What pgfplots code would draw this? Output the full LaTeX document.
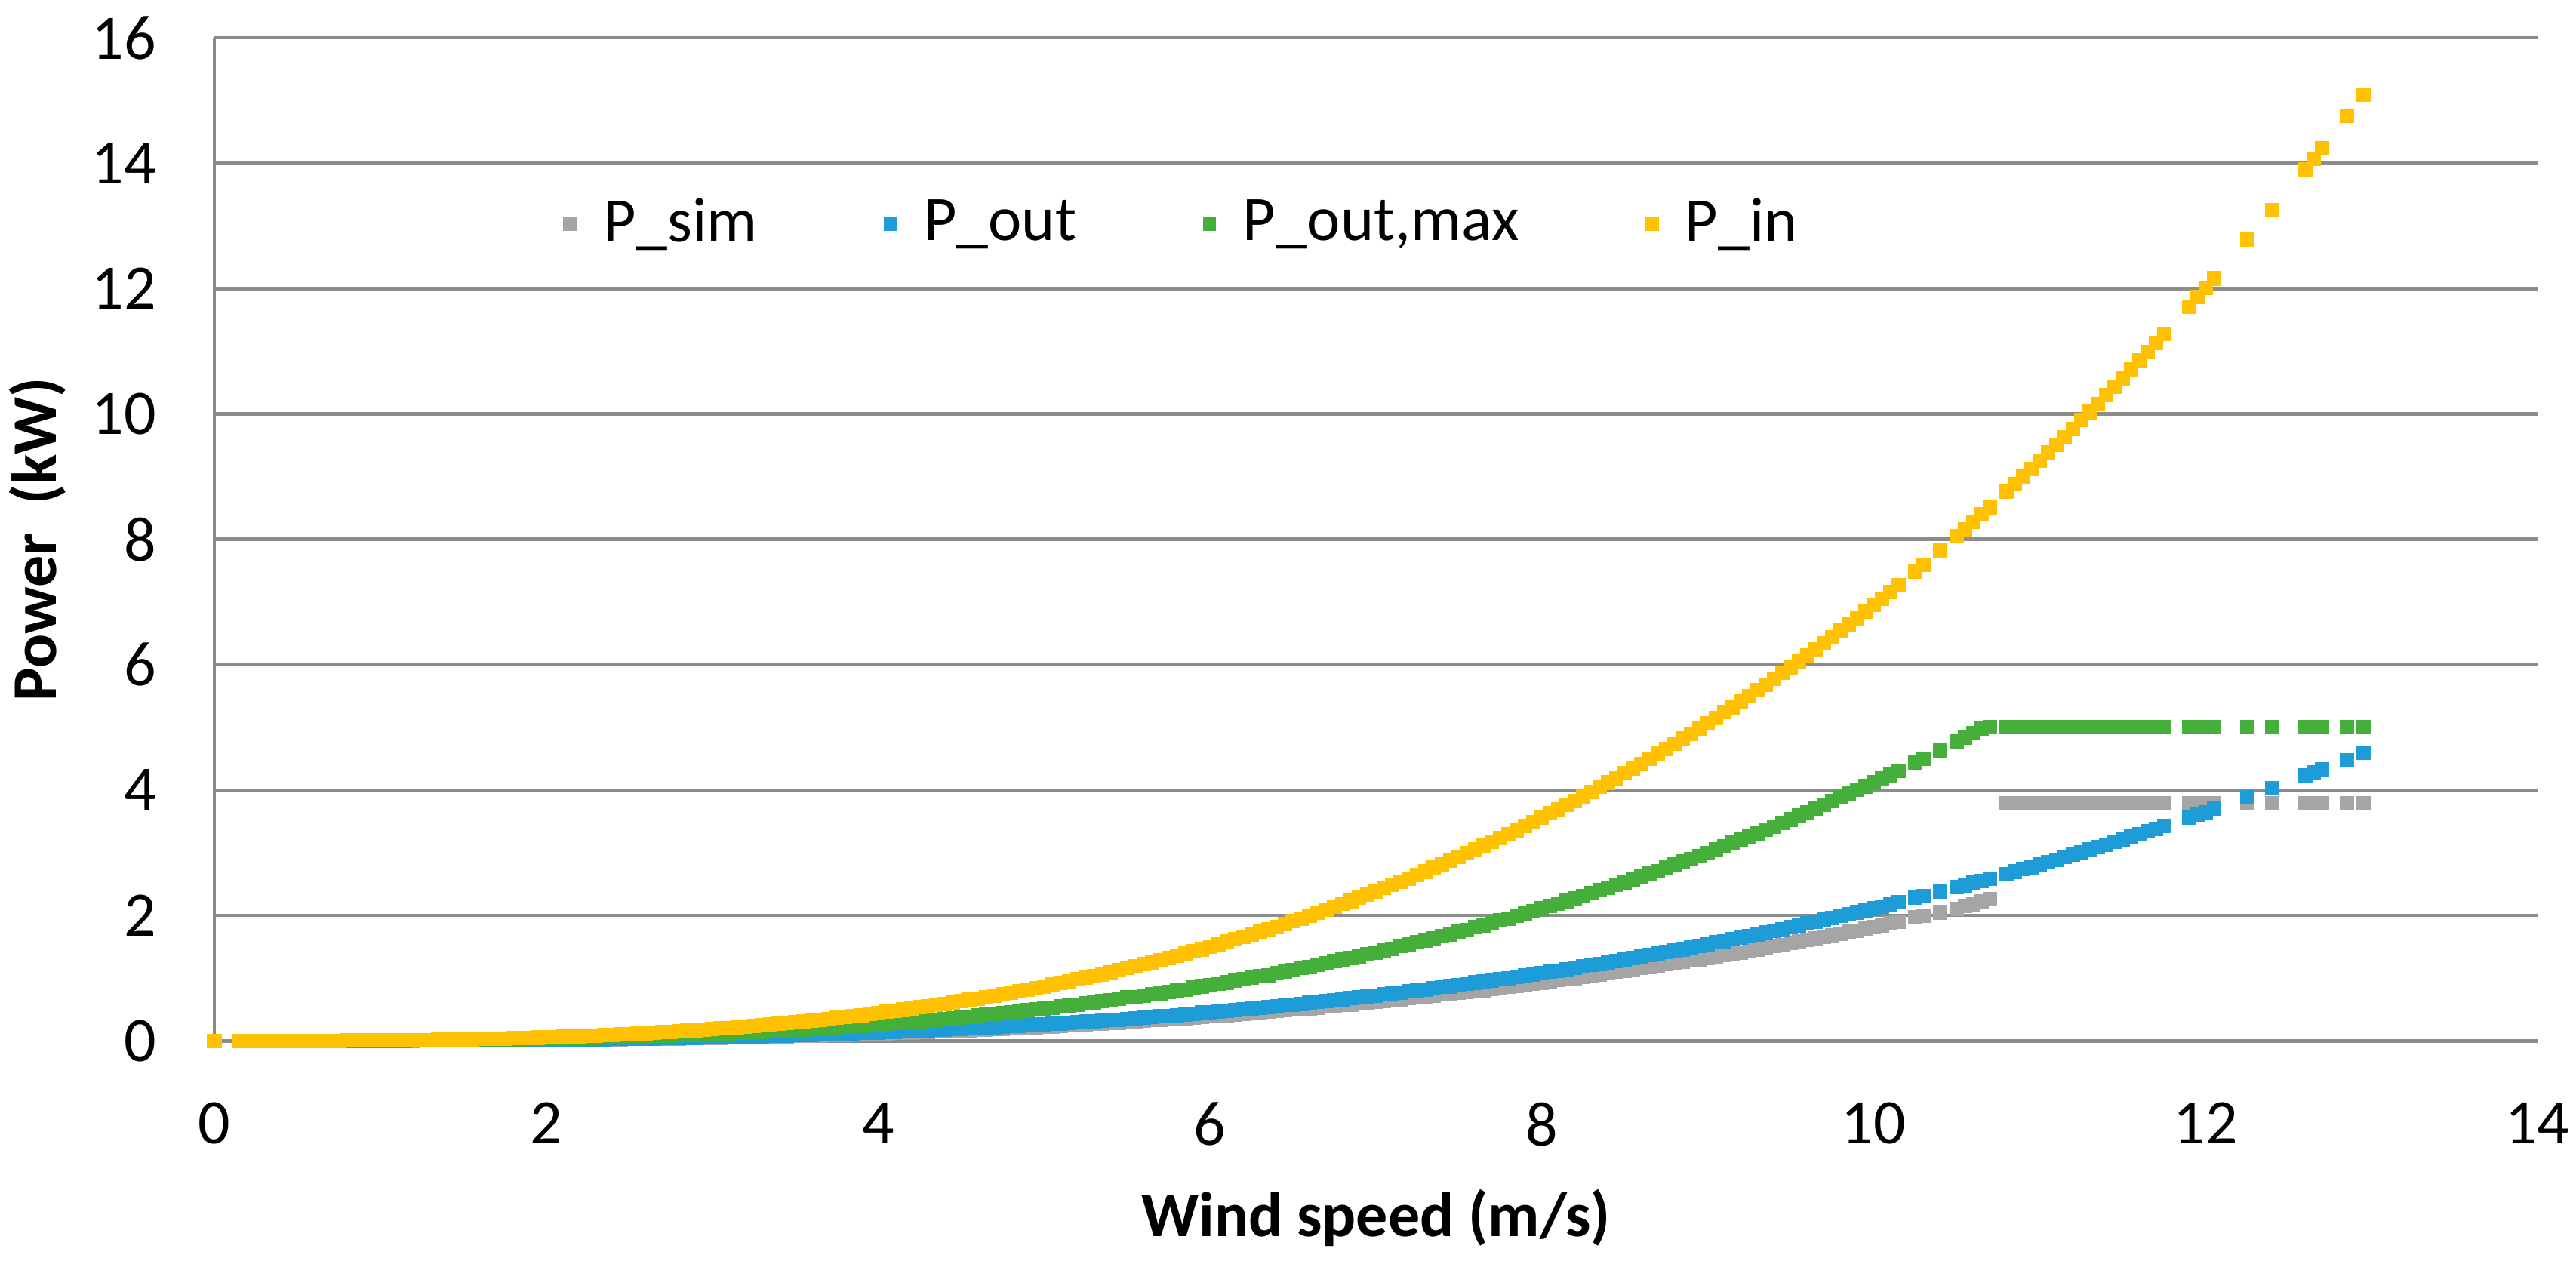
\documentclass[border=0pt]{standalone}
\usepackage{fontspec}
\setmainfont{Carlito}
\usepackage{pgfplots}
\usepackage{pgfplotstable}
\pgfplotsset{compat=1.18}
\definecolor{gridc}{RGB}{140,140,140}
\definecolor{csim}{RGB}{165,165,165}
\definecolor{cout}{RGB}{29,156,216}
\definecolor{cmax}{RGB}{68,175,59}
\definecolor{cin}{RGB}{255,193,0}
\pgfplotstableread{
v sim out max in
0 0 0 0 0
0.15 0 0 0 0
0.20 0 0 0 0
0.25 0 0 0 0
0.30 0 0 0 0
0.35 0 0 0 0
0.40 0 0 0 0
0.45 0 0 0 0.001
0.50 0 0 0.001 0.001
0.55 0 0 0.001 0.001
0.60 0 0 0.001 0.002
0.65 0 0.001 0.001 0.002
0.70 0.001 0.001 0.001 0.002
0.75 0.001 0.001 0.002 0.003
0.80 0.001 0.001 0.002 0.004
0.85 0.001 0.001 0.003 0.004
0.90 0.001 0.002 0.003 0.005
0.95 0.002 0.002 0.004 0.006
1.00 0.002 0.002 0.004 0.007
1.05 0.002 0.002 0.005 0.008
1.10 0.002 0.003 0.005 0.009
1.15 0.003 0.003 0.006 0.011
1.20 0.003 0.004 0.007 0.012
1.25 0.004 0.004 0.008 0.014
1.30 0.004 0.005 0.009 0.015
1.35 0.004 0.005 0.010 0.017
1.40 0.005 0.006 0.011 0.019
1.45 0.006 0.006 0.013 0.021
1.50 0.006 0.007 0.014 0.023
1.55 0.007 0.008 0.015 0.026
1.60 0.007 0.009 0.017 0.028
1.65 0.008 0.009 0.019 0.031
1.70 0.009 0.010 0.020 0.034
1.75 0.010 0.011 0.022 0.037
1.80 0.011 0.012 0.024 0.041
1.85 0.012 0.013 0.026 0.044
1.90 0.012 0.014 0.028 0.048
1.95 0.013 0.016 0.031 0.052
2.00 0.015 0.017 0.033 0.056
2.05 0.016 0.018 0.035 0.060
2.10 0.017 0.020 0.038 0.064
2.15 0.018 0.021 0.041 0.069
2.20 0.019 0.022 0.044 0.074
2.25 0.021 0.024 0.047 0.079
2.30 0.022 0.026 0.050 0.085
2.35 0.024 0.027 0.053 0.090
2.40 0.025 0.029 0.057 0.096
2.45 0.027 0.031 0.061 0.102
2.50 0.028 0.033 0.064 0.109
2.55 0.030 0.035 0.068 0.115
2.60 0.032 0.037 0.072 0.122
2.65 0.034 0.039 0.077 0.129
2.70 0.036 0.042 0.081 0.137
2.75 0.038 0.044 0.086 0.145
2.80 0.040 0.046 0.090 0.153
2.85 0.042 0.049 0.095 0.161
2.90 0.044 0.052 0.100 0.170
2.95 0.047 0.054 0.106 0.178
3.00 0.049 0.057 0.111 0.188
3.05 0.052 0.060 0.117 0.197
3.10 0.054 0.063 0.123 0.207
3.15 0.057 0.066 0.129 0.217
3.20 0.060 0.069 0.135 0.228
3.25 0.062 0.073 0.141 0.239
3.30 0.065 0.076 0.148 0.250
3.35 0.068 0.079 0.155 0.261
3.40 0.071 0.083 0.162 0.273
3.45 0.075 0.087 0.169 0.285
3.50 0.078 0.091 0.177 0.298
3.55 0.081 0.095 0.184 0.311
3.60 0.085 0.099 0.192 0.324
3.65 0.088 0.103 0.200 0.338
3.70 0.092 0.107 0.209 0.352
3.75 0.096 0.111 0.217 0.367
3.80 0.100 0.116 0.226 0.381
3.85 0.104 0.121 0.235 0.397
3.90 0.108 0.125 0.244 0.412
3.95 0.112 0.130 0.254 0.428
4.00 0.116 0.135 0.264 0.445
4.05 0.121 0.140 0.274 0.462
4.10 0.125 0.146 0.284 0.479
4.15 0.130 0.151 0.294 0.497
4.20 0.135 0.157 0.305 0.515
4.25 0.139 0.162 0.316 0.534
4.30 0.144 0.168 0.328 0.553
4.35 0.150 0.174 0.339 0.572
4.40 0.155 0.180 0.351 0.592
4.45 0.160 0.186 0.363 0.612
4.50 0.166 0.193 0.375 0.633
4.55 0.171 0.199 0.388 0.655
4.60 0.177 0.206 0.401 0.676
4.65 0.183 0.212 0.414 0.699
4.70 0.189 0.219 0.428 0.722
4.75 0.195 0.226 0.441 0.745
4.80 0.201 0.234 0.456 0.769
4.85 0.207 0.241 0.470 0.793
4.90 0.214 0.249 0.485 0.818
4.95 0.220 0.256 0.500 0.843
5.00 0.227 0.264 0.515 0.869
5.05 0.23 0.27 0.53 0.90
5.10 0.24 0.28 0.55 0.92
5.15 0.25 0.29 0.56 0.95
5.20 0.26 0.30 0.58 0.98
5.25 0.26 0.31 0.60 1.01
5.30 0.27 0.31 0.61 1.03
5.35 0.28 0.32 0.63 1.06
5.40 0.29 0.33 0.65 1.09
5.45 0.29 0.34 0.67 1.13
5.50 0.30 0.35 0.69 1.16
5.55 0.31 0.36 0.70 1.19
5.60 0.32 0.37 0.72 1.22
5.65 0.33 0.38 0.74 1.25
5.70 0.34 0.39 0.76 1.29
5.75 0.35 0.40 0.78 1.32
5.80 0.35 0.41 0.80 1.36
5.85 0.36 0.42 0.82 1.39
5.90 0.37 0.43 0.85 1.43
5.95 0.38 0.45 0.87 1.46
6.00 0.39 0.46 0.89 1.50
6.05 0.40 0.47 0.91 1.54
6.10 0.41 0.48 0.93 1.58
6.15 0.42 0.49 0.96 1.62
6.20 0.43 0.50 0.98 1.66
6.25 0.44 0.52 1.01 1.70
6.30 0.45 0.53 1.03 1.74
6.35 0.47 0.54 1.05 1.78
6.40 0.48 0.55 1.08 1.82
6.45 0.49 0.57 1.11 1.86
6.50 0.50 0.58 1.13 1.91
6.55 0.51 0.59 1.16 1.95
6.60 0.52 0.61 1.18 2.00
6.65 0.53 0.62 1.21 2.04
6.70 0.55 0.64 1.24 2.09
6.75 0.56 0.65 1.27 2.14
6.80 0.57 0.66 1.30 2.19
6.85 0.58 0.68 1.32 2.23
6.90 0.60 0.69 1.35 2.28
6.95 0.61 0.71 1.38 2.33
7.00 0.62 0.72 1.41 2.38
7.05 0.64 0.74 1.44 2.44
7.10 0.65 0.76 1.47 2.49
7.15 0.66 0.77 1.51 2.54
7.20 0.68 0.79 1.54 2.59
7.25 0.69 0.81 1.57 2.65
7.30 0.71 0.82 1.60 2.70
7.35 0.72 0.84 1.64 2.76
7.40 0.74 0.86 1.67 2.82
7.45 0.75 0.87 1.70 2.87
7.50 0.77 0.89 1.74 2.93
7.55 0.78 0.91 1.77 2.99
7.60 0.80 0.93 1.81 3.05
7.65 0.81 0.95 1.84 3.11
7.70 0.83 0.96 1.88 3.17
7.75 0.85 0.98 1.92 3.24
7.80 0.86 1.00 1.95 3.30
7.85 0.88 1.02 1.99 3.36
7.90 0.90 1.04 2.03 3.43
7.95 0.91 1.06 2.07 3.49
8.00 0.93 1.08 2.11 3.56
8.05 0.95 1.10 2.15 3.63
8.10 0.97 1.12 2.19 3.69
8.15 0.98 1.14 2.23 3.76
8.20 1.00 1.16 2.27 3.83
8.25 1.02 1.19 2.31 3.90
8.30 1.04 1.21 2.36 3.97
8.35 1.06 1.23 2.40 4.05
8.40 1.08 1.25 2.44 4.12
8.45 1.10 1.27 2.49 4.19
8.50 1.12 1.30 2.53 4.27
8.55 1.14 1.32 2.57 4.34
8.60 1.16 1.34 2.62 4.42
8.65 1.18 1.37 2.67 4.50
8.70 1.20 1.39 2.71 4.58
8.75 1.22 1.42 2.76 4.66
8.80 1.24 1.44 2.81 4.74
8.85 1.26 1.46 2.86 4.82
8.90 1.28 1.49 2.90 4.90
8.95 1.30 1.51 2.95 4.98
9.00 1.32 1.54 3.00 5.07
9.05 1.35 1.57 3.05 5.15
9.10 1.37 1.59 3.10 5.24
9.15 1.39 1.62 3.16 5.32
9.20 1.41 1.65 3.21 5.41
9.25 1.44 1.67 3.26 5.50
9.30 1.46 1.70 3.31 5.59
9.35 1.49 1.73 3.37 5.68
9.40 1.51 1.75 3.42 5.77
9.45 1.53 1.78 3.48 5.87
9.50 1.56 1.81 3.53 5.96
9.55 1.58 1.84 3.59 6.05
9.60 1.61 1.87 3.64 6.15
9.65 1.63 1.90 3.70 6.25
9.70 1.66 1.93 3.76 6.34
9.75 1.68 1.96 3.82 6.44
9.80 1.71 1.99 3.88 6.54
9.85 1.74 2.02 3.94 6.64
9.90 1.76 2.05 4.00 6.74
9.95 1.79 2.08 4.06 6.85
10.00 1.82 2.11 4.12 6.95
10.05 1.84 2.14 4.18 7.05
10.10 1.87 2.18 4.24 7.16
10.15 1.90 2.21 4.31 7.27
10.25 1.97 2.28 4.44 7.48
10.30 2.00 2.31 4.50 7.59
10.40 2.05 2.38 4.63 7.82
10.50 2.10 2.45 4.77 8.05
10.55 2.15 2.48 4.84 8.16
10.60 2.18 2.52 4.91 8.28
10.65 2.22 2.55 4.98 8.40
10.70 2.26 2.59 5.00 8.51
10.80 3.79 2.66 5.00 8.76
10.85 3.79 2.70 5.00 8.88
10.90 3.79 2.74 5.00 9.00
10.95 3.79 2.77 5.00 9.12
11.00 3.79 2.81 5.00 9.25
11.05 3.79 2.85 5.00 9.38
11.10 3.79 2.89 5.00 9.51
11.15 3.79 2.93 5.00 9.63
11.20 3.79 2.97 5.00 9.76
11.25 3.79 3.01 5.00 9.90
11.30 3.79 3.05 5.00 10.03
11.35 3.79 3.09 5.00 10.16
11.40 3.79 3.13 5.00 10.30
11.45 3.79 3.17 5.00 10.43
11.50 3.79 3.21 5.00 10.57
11.55 3.79 3.26 5.00 10.71
11.60 3.79 3.30 5.00 10.85
11.65 3.79 3.34 5.00 10.99
11.70 3.79 3.38 5.00 11.13
11.75 3.79 3.43 5.00 11.27
11.90 3.79 3.56 5.00 11.71
11.95 3.79 3.61 5.00 11.86
12.00 3.79 3.65 5.00 12.01
12.05 3.79 3.70 5.00 12.16
12.25 3.79 3.88 5.00 12.78
12.40 3.79 4.03 5.00 13.25
12.60 3.79 4.23 5.00 13.90
12.65 3.79 4.28 5.00 14.07
12.70 3.79 4.33 5.00 14.24
12.85 3.79 4.48 5.00 14.75
12.95 3.79 4.59 5.00 15.09
}\data
\begin{document}
\begin{tikzpicture}[font=\fontsize{12}{14.4}\selectfont]
\path[use as bounding box] (-40.57pt,-41.67pt) rectangle (447.0pt,197.04pt);
\begin{axis}[
  at={(0pt,0pt)}, anchor=south west,
  scale only axis, width=439.7pt, height=189.9pt,
  xmin=0, xmax=14, ymin=0, ymax=16,
  xtick={0,2,...,14}, ytick={0,2,...,16},
  clip=false,
  axis x line*=bottom, axis y line*=left,
  axis line style={draw=gridc, line width=0.65pt, -},
  ymajorgrids, major grid style={draw=gridc, line width=0.65pt},
  major tick length=0pt,
  /pgf/number format/assume math mode=true,
  xticklabel style={anchor=north, inner sep=0pt, yshift=-11.5pt},
  yticklabel style={anchor=east, inner sep=0pt, xshift=-10.8pt},
  xlabel={\textbf{Wind speed (m/s)}},
  ylabel={\textbf{Power\ \ (kW)}},
  xlabel style={at={([yshift=-36.96pt]axis description cs:0.5,0)}, anchor=base, inner sep=0pt},
  ylabel style={at={([xshift=-29.86pt]axis description cs:0,0.5)}, anchor=base, inner sep=0pt},
  legend columns=4,
  legend image code/.code={\draw[#1, mark size=1.2pt] plot coordinates {(0pt,0pt)};},
  legend style={draw=none, fill=none, inner sep=0pt, outer sep=0pt,
    at={(axis description cs:0.1504,0.8144)}, anchor=west,
    nodes={inner sep=0pt},
    /tikz/every odd column/.append style={column sep=5.1pt},
    /tikz/every even column/.append style={column sep=24pt}},
  every axis plot/.append style={only marks, mark=square*, mark size=1.29pt, mark options={line width=0pt}},
]
\addplot[color=csim] table[x=v, y=sim]{\data};
\addlegendentry{P\_sim}
\addplot[color=cout] table[x=v, y=out]{\data};
\addlegendentry{P\_out}
\addplot[color=cmax] table[x=v, y=max]{\data};
\addlegendentry{P\_out,max}
\addplot[color=cin] table[x=v, y=in]{\data};
\addlegendentry{P\_in}
\end{axis}
\end{tikzpicture}
\end{document}
